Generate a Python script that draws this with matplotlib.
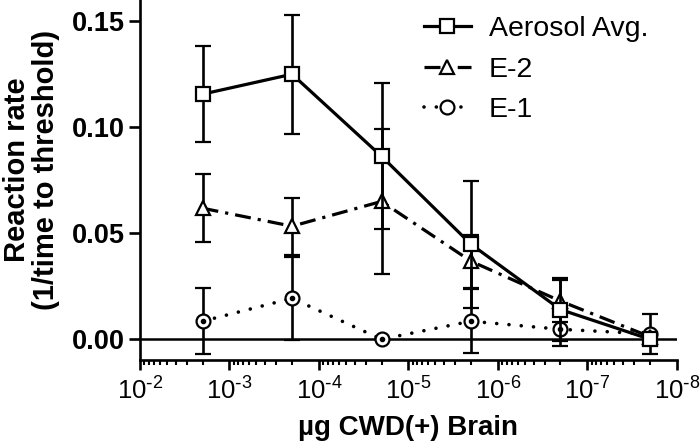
import numpy as np
import matplotlib
matplotlib.use("Agg")
from matplotlib import pyplot as plt
from matplotlib.lines import Line2D
from matplotlib.ticker import FixedLocator, FormatStrFormatter, LogLocator, FuncFormatter

plt.rcParams['font.family'] = ['Liberation Sans', 'DejaVu Sans']
plt.rcParams['mathtext.default'] = 'regular'

# data (ug CWD(+) brain per reaction)
dose = [2e-3, 2e-4, 2e-5, 2e-6, 2e-7, 2e-8]

aerosol = [0.1156, 0.125, 0.0863, 0.0448, 0.014, 0.0]
aerosol_err = [0.0227, 0.028, 0.0345, 0.030, 0.015, 0.0]

e2 = [0.0618, 0.0533, 0.065, 0.0368, 0.018, 0.0012]
e2_err = [0.016, 0.0135, 0.034, 0.0125, 0.010, 0.0]

e1 = [0.0085, 0.0193, 0.0, 0.0085, 0.0047, 0.0025]
e1_err = [0.0155, 0.0195, 0.0, 0.015, 0.008, 0.0095]
##################################################

fig = plt.figure(figsize=(7, 4.45), dpi=100)
ax = fig.add_axes([0.2, 0.19, 0.767, 0.81])

lw = 2.3
ew = 1.9
cap = 5.8
dashdot = (0, (5, 2.2, 1, 2.2))
dots = (0, (0.01, 3.4))

ax.axhline(0, color='black', lw=1.8, zorder=1)

ax.errorbar(dose, aerosol, yerr=aerosol_err, color='black', lw=lw, elinewidth=ew,
            capsize=cap, capthick=ew, marker='s', ms=9.5, mfc='white', mec='black',
            mew=1.6, zorder=4)
ax.errorbar(dose, e2, yerr=e2_err, color='black', lw=lw, elinewidth=ew,
            capsize=cap, capthick=ew, marker='^', ms=10, mfc='white', mec='black',
            mew=1.6, ls=dashdot, zorder=3)
e1_line = ax.errorbar(dose, e1, yerr=e1_err, color='black', lw=2.6, elinewidth=ew,
                      capsize=cap, capthick=ew, marker='o', ms=10, mfc='white',
                      mec='black', mew=1.6, ls=dots, zorder=2)
e1_line[0].set_dash_capstyle('round')
# dot in centre of circles
ax.plot(dose, e1, ls='none', marker='o', ms=3, color='black', zorder=2.5)

ax.set_xscale('log')
ax.set_xlim(1e-2, 1e-8)
ax.set_ylim(-0.01, 0.16)
ax.xaxis.set_major_locator(LogLocator(base=10, numticks=10))
ax.xaxis.set_minor_locator(LogLocator(base=10, subs=np.arange(2, 10), numticks=20))
ax.xaxis.set_major_formatter(FuncFormatter(
    lambda v, p: r'$10^{\text{-}%d}$' % round(-np.log10(v))))
ax.yaxis.set_major_locator(FixedLocator([0.0, 0.05, 0.10, 0.15]))
ax.yaxis.set_major_formatter(FormatStrFormatter('%.2f'))

for s in ['top', 'right']:
    ax.spines[s].set_visible(False)
for s in ['left', 'bottom']:
    ax.spines[s].set_linewidth(1.9)

ax.tick_params(axis='y', which='major', length=8, width=1.9, labelsize=19.5, pad=3)
ax.tick_params(axis='x', which='major', length=7.5, width=1.9, labelsize=18.5, pad=5)
ax.tick_params(axis='x', which='minor', length=3.5, width=1.5)
for t in ax.get_yticklabels():
    t.set_fontweight('bold')

ax.set_ylabel('Reaction rate\n(1/time to threshold)', fontsize=21, fontweight='bold',
              linespacing=1.05)
ax.yaxis.set_label_coords(-0.149, 0.528)
ax.set_xlabel('\u00b5g CWD(+) Brain', fontsize=20, fontweight='bold', labelpad=7)

# legend (line + marker only)
h_aer = Line2D([], [], color='black', lw=lw, marker='s', ms=9.5, mfc='white', mew=1.6)
h_e2 = Line2D([], [], color='black', lw=lw, ls=dashdot, marker='^', ms=10, mfc='white', mew=1.6)
h_e1 = Line2D([], [], color='black', lw=2.6, ls=dots, marker='o', ms=10, mfc='white', mew=1.6,
              dash_capstyle='round')
ax.legend([h_aer, h_e2, h_e1], ['Aerosol Avg.', 'E-2', 'E-1'], loc='upper left',
          bbox_to_anchor=(0.507, 0.987), frameon=False, fontsize=20.5, handlelength=1.65,
          handletextpad=0.63, labelspacing=0.51, borderaxespad=0)

fig.savefig('out.png', dpi=100)
